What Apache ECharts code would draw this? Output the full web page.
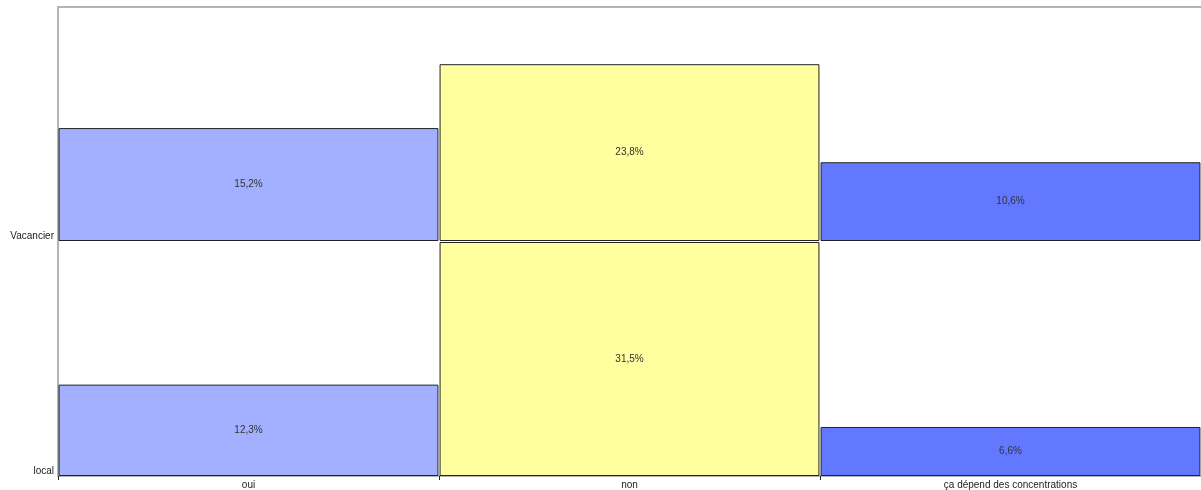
<!DOCTYPE html>
<html>
<head>
<meta charset="utf-8">
<script src="https://cdn.jsdelivr.net/npm/echarts@6/dist/echarts.min.js"></script>
<style>
html,body{margin:0;padding:0;background:#fff;}
#chart{width:1201px;height:490px;}
</style>
</head>
<body>
<div id="chart"></div>
<script>
const categories = ['oui', 'non', 'ça dépend des concentrations'];
const rowNames = ['Vacancier', 'local'];
const vacancierValues = [15.2, 23.8, 10.6];
const localValues = [12.3, 31.5, 6.6];
const rowValues = [vacancierValues, localValues];
const categoryColors = ['#A3B0FF', '#FFFF9F', '#6279FF'];
const valueMax = 31.5;

const fontFamily = '"Liberation Sans", Arial, sans-serif';
const grids = [
  {left: 58, right: 0, top: 7, height: 234},
  {left: 58, right: 0, top: 242, height: 234}
];

function fmt(v) { return v.toFixed(1).replace('.', ',') + '%'; }

const xAxes = rowNames.map((r, i) => ({
  type: 'category',
  gridIndex: i,
  data: categories,
  position: i === 0 ? 'top' : 'bottom',
  axisLine: {show: true, onZero: false, lineStyle: {color: '#b4b4b4', width: 2}},
  axisTick: {show: i === 1, alignWithLabel: false, length: 4, lineStyle: {color: '#222'}},
  axisLabel: {show: i === 1, color: '#222', fontSize: 10, fontFamily: fontFamily, margin: 4},
  splitLine: {show: false}
}));

const yAxes = rowNames.map((r, i) => ({
  type: 'value',
  gridIndex: i,
  min: 0,
  max: valueMax,
  interval: valueMax,
  axisLine: {show: true, lineStyle: {color: '#b4b4b4', width: 2}},
  axisTick: {show: false},
  splitLine: {show: false},
  axisLabel: {
    show: true,
    color: '#222',
    fontSize: 10,
    fontFamily: fontFamily,
    margin: 4,
    verticalAlign: 'bottom',
    formatter: v => (v === 0 ? r : '')
  }
}));

const series = rowValues.map((vals, i) => ({
  type: 'bar',
  xAxisIndex: i,
  yAxisIndex: i,
  barWidth: '99.7%',
  data: vals.map((v, j) => ({value: v, itemStyle: {color: categoryColors[j]}})),
  itemStyle: {borderColor: '#222', borderWidth: 1},
  label: {
    show: true,
    position: 'inside',
    color: '#333',
    fontSize: 10,
    fontFamily: fontFamily,
    formatter: p => fmt(p.value)
  },
  silent: true,
  animation: false
}));

const chart = echarts.init(document.getElementById('chart'), null, {renderer: 'canvas'});
chart.setOption({
  backgroundColor: '#fff',
  animation: false,
  grid: grids,
  xAxis: xAxes,
  yAxis: yAxes,
  series: series
});
</script>
</body>
</html>
